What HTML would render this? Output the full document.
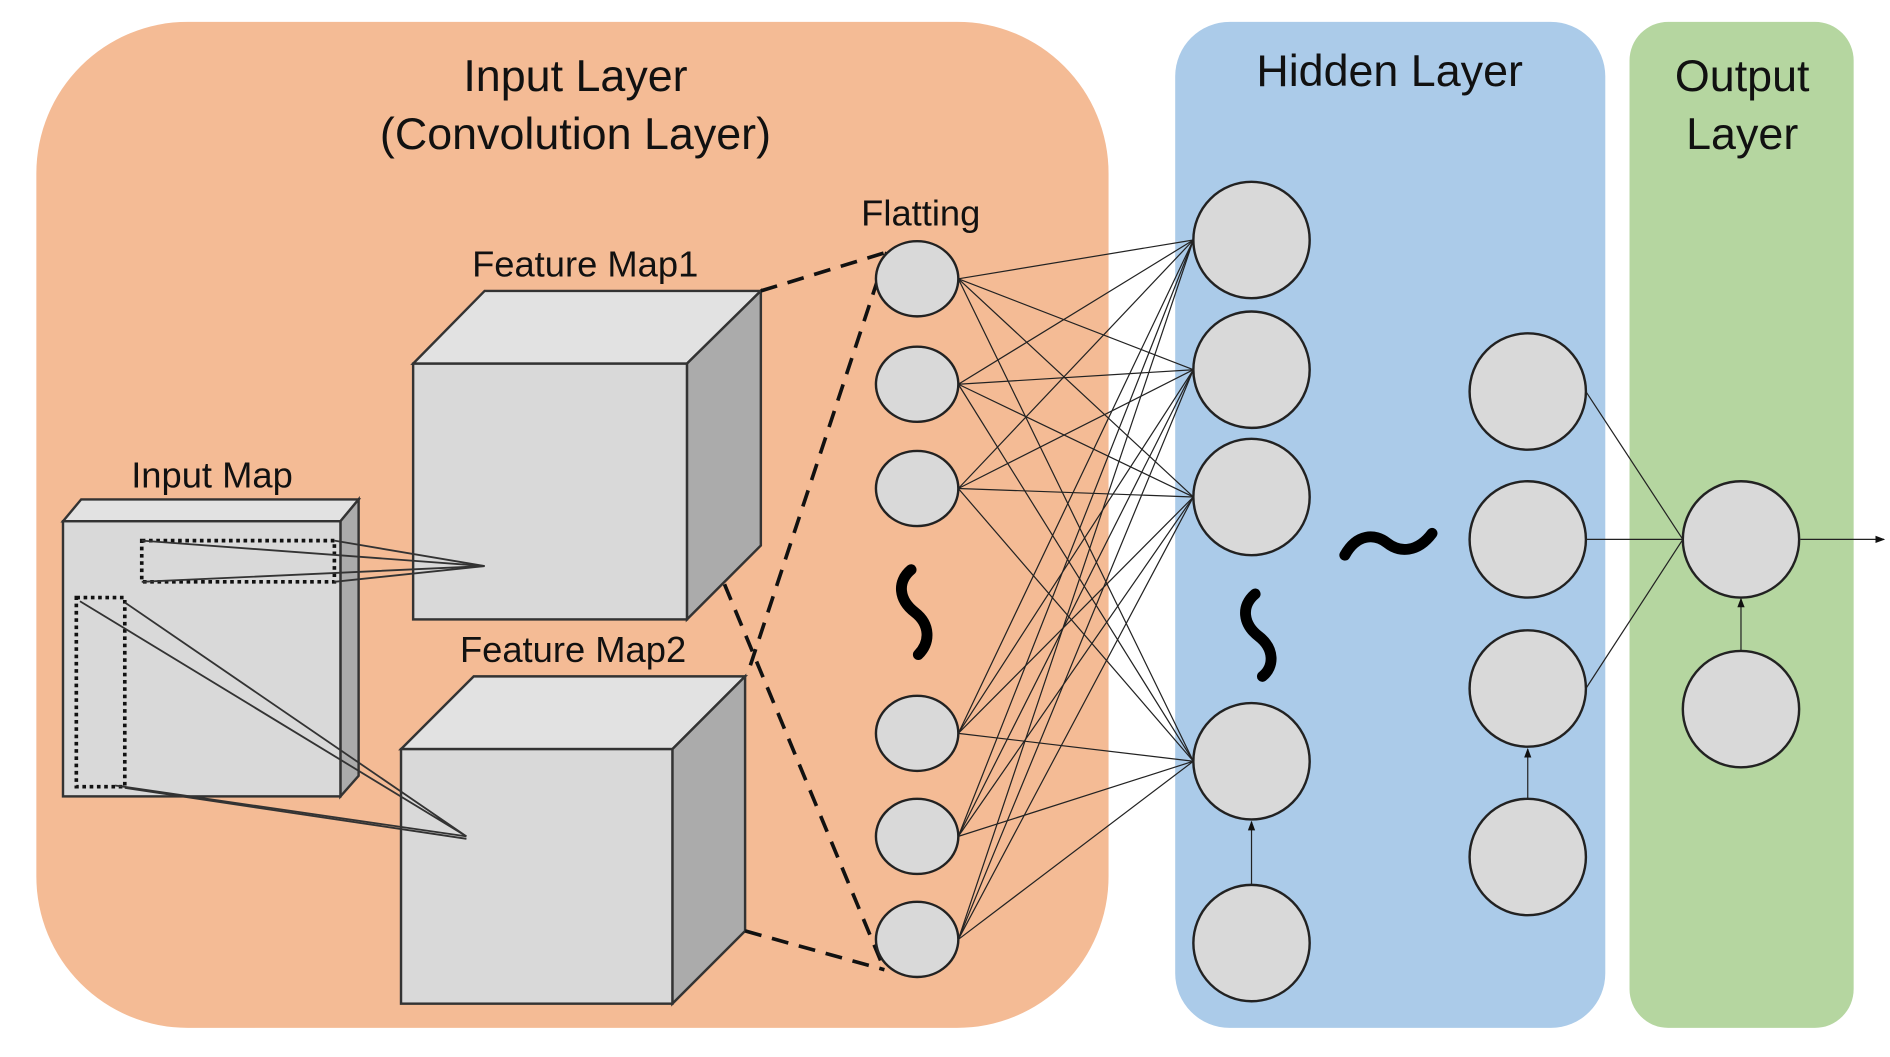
<!DOCTYPE html>
<html><head><meta charset="utf-8"><style>
html,body{margin:0;padding:0;background:#fff;}
svg{display:block;}
text{font-family:"Liberation Sans","Noto Sans CJK KR",sans-serif;fill:#111;}
</style></head><body>
<svg width="1890" height="1057" viewBox="0 0 1560 872" preserveAspectRatio="none" xmlns="http://www.w3.org/2000/svg">
<defs><marker id="ar" markerWidth="8" markerHeight="8" refX="7" refY="4" orient="auto" markerUnits="userSpaceOnUse"><path d="M0,1 L8,4 L0,7z" fill="#111"/></marker></defs>
<rect x="30" y="18" width="885" height="830" rx="125" fill="#f4bb95"/>
<rect x="970" y="18" width="355" height="830" rx="45" fill="#abcbe9"/>
<rect x="1345" y="18" width="185" height="830" rx="32" fill="#b5d6a0"/>
<g font-size="37" text-anchor="middle">
<text x="475" y="75">Input Layer</text>
<text x="475" y="123">(Convolution Layer)</text>
<text x="1147" y="71">Hidden Layer</text>
<text x="1438" y="75">Output</text>
<text x="1438" y="123">Layer</text>
</g>
<g font-size="30" text-anchor="middle">
<text x="760" y="186">Flatting</text>
<text x="483" y="228">Feature Map1</text>
<text x="473" y="546">Feature Map2</text>
<text x="175" y="402">Input Map</text>
</g>
<!-- cubes -->
<g stroke="#333" stroke-width="2">
<polygon points="341,300 400,240 628,240 567,300" fill="#e2e2e2"/>
<polygon points="567,300 628,240 628,450 567,511" fill="#ababab"/>
<rect x="341" y="300" width="226" height="211" fill="#d9d9d9"/>
<polygon points="331,618 391,558 615,558 555,618" fill="#e2e2e2"/>
<polygon points="555,618 615,558 615,768 555,828" fill="#ababab"/>
<rect x="331" y="618" width="224" height="210" fill="#d9d9d9"/>
<polygon points="52,430 67,412 296,412 281,430" fill="#e2e2e2"/>
<polygon points="281,430 296,412 296,640 281,657" fill="#ababab"/>
<rect x="52" y="430" width="229" height="227" fill="#d9d9d9"/>
</g>
<g fill="none" stroke="#111" stroke-width="3" stroke-dasharray="3,3">
<rect x="117" y="446" width="159" height="34"/>
<rect x="63" y="493" width="40" height="156"/>
</g>
<g stroke="#333" stroke-width="1.5" fill="none">
<polyline points="276,446 400,467 276,480"/>
<polyline points="117,446 400,467 117,480"/>
<polyline points="66,496 385,690 103,497"/>
<line x1="95" y1="648" x2="385" y2="690"/>
<line x1="103" y1="650" x2="385" y2="692"/>
</g>
<g stroke="#111" stroke-width="3" stroke-dasharray="14,9" fill="none">
<line x1="628" y1="240" x2="732" y2="208"/>
<line x1="732" y1="208" x2="617" y2="556"/>
<line x1="598" y1="482" x2="730" y2="800"/>
<line x1="615" y1="768" x2="730" y2="800"/>
</g>
<!-- connections -->
<g stroke="#222" stroke-width="1">
<g id="c1">
<line x1="791" y1="230" x2="985" y2="198"/><line x1="791" y1="230" x2="985" y2="305"/><line x1="791" y1="230" x2="985" y2="410"/><line x1="791" y1="230" x2="985" y2="628"/>
<line x1="791" y1="317" x2="985" y2="198"/><line x1="791" y1="317" x2="985" y2="305"/><line x1="791" y1="317" x2="985" y2="410"/><line x1="791" y1="317" x2="985" y2="628"/>
<line x1="791" y1="403" x2="985" y2="198"/><line x1="791" y1="403" x2="985" y2="305"/><line x1="791" y1="403" x2="985" y2="410"/><line x1="791" y1="403" x2="985" y2="628"/>
<line x1="791" y1="605" x2="985" y2="198"/><line x1="791" y1="605" x2="985" y2="305"/><line x1="791" y1="605" x2="985" y2="410"/><line x1="791" y1="605" x2="985" y2="628"/>
<line x1="791" y1="690" x2="985" y2="198"/><line x1="791" y1="690" x2="985" y2="305"/><line x1="791" y1="690" x2="985" y2="410"/><line x1="791" y1="690" x2="985" y2="628"/>
<line x1="791" y1="775" x2="985" y2="198"/><line x1="791" y1="775" x2="985" y2="305"/><line x1="791" y1="775" x2="985" y2="410"/><line x1="791" y1="775" x2="985" y2="628"/>
</g>
<line x1="1309" y1="323" x2="1389" y2="445"/>
<line x1="1309" y1="445" x2="1389" y2="445"/>
<line x1="1309" y1="568" x2="1389" y2="445"/>
<line x1="1486" y1="445" x2="1555" y2="445" marker-end="url(#ar)"/>
<line x1="1033" y1="730" x2="1033" y2="678" marker-end="url(#ar)"/>
<line x1="1261" y1="659" x2="1261" y2="618" marker-end="url(#ar)"/>
<line x1="1437" y1="537" x2="1437" y2="494" marker-end="url(#ar)"/>
</g>
<!-- nodes -->
<g fill="#d9d9d9" stroke="#222" stroke-width="2">
<ellipse cx="757" cy="230" rx="34" ry="31"/><ellipse cx="757" cy="317" rx="34" ry="31"/><ellipse cx="757" cy="403" rx="34" ry="31"/>
<ellipse cx="757" cy="605" rx="34" ry="31"/><ellipse cx="757" cy="690" rx="34" ry="31"/><ellipse cx="757" cy="775" rx="34" ry="31"/>
<circle cx="1033" cy="198" r="48"/><circle cx="1033" cy="305" r="48"/><circle cx="1033" cy="410" r="48"/><circle cx="1033" cy="628" r="48"/><circle cx="1033" cy="778" r="48"/>
<circle cx="1261" cy="323" r="48"/><circle cx="1261" cy="445" r="48"/><circle cx="1261" cy="568" r="48"/><circle cx="1261" cy="707" r="48"/>
<circle cx="1437" cy="445" r="48"/><circle cx="1437" cy="585" r="48"/>
</g>
<!-- tildes -->
<g fill="none" stroke="#000" stroke-width="9" stroke-linecap="round">
<path d="M752,470 C740,480 742,495 755,505 C768,515 768,530 758,540"/>
<path d="M1036,490 C1024,500 1026,515 1039,525 C1052,535 1052,550 1042,558"/>
<path d="M1110,458 C1120,440 1135,440 1145,448 C1155,456 1170,456 1182,440"/>
</g>
</svg>
</body></html>
